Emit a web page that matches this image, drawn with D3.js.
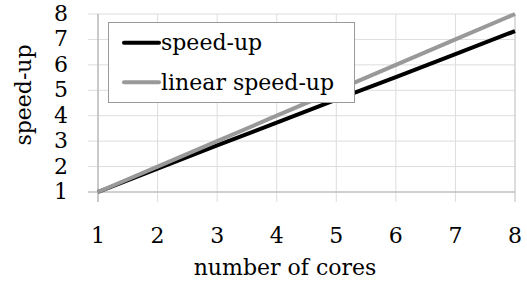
<!DOCTYPE html>
<html>
<head>
<meta charset="utf-8">
<script src="https://cdn.jsdelivr.net/npm/d3@7"></script>
<style>
body { margin: 0; background: #fff; }
svg text { font-family: "DejaVu Serif", serif; fill: #000; }
</style>
</head>
<body>
<script>
var cores = [1, 2, 3, 4, 5, 6, 7, 8];
var speedUp = [1, 1.92, 2.83, 3.73, 4.63, 5.52, 6.42, 7.33];
var linearSpeedUp = [1, 2, 3, 4, 5, 6, 7, 8];
var yTicks = [1, 2, 3, 4, 5, 6, 7, 8];
var seriesNames = ["speed-up", "linear speed-up"];
var seriesColors = ["#000000", "#999999"];

var width = 527, height = 286;
var svg = d3.select("body").append("svg").attr("width", width).attr("height", height);

var x = d3.scaleLinear().domain([1, 8]).range([98, 515]);
var y = d3.scaleLinear().domain([1, 8]).range([192, 14]);

// grid
svg.selectAll(".hgrid").data(yTicks).enter().append("line")
	.attr("x1", 88).attr("x2", 515)
	.attr("y1", function(d){ return y(d); }).attr("y2", function(d){ return y(d); })
	.style("stroke", "#dddddd").style("stroke-width", 1);
svg.selectAll(".vgrid").data(cores).enter().append("line")
	.attr("x1", function(d){ return x(d); }).attr("x2", function(d){ return x(d); })
	.attr("y1", 14).attr("y2", 202)
	.style("stroke", "#dddddd").style("stroke-width", 1);

// axes lines
svg.append("line").attr("x1", x(1)).attr("x2", x(1)).attr("y1", 14).attr("y2", 202)
	.style("stroke", "#b0b0b0").style("stroke-width", 1.2);
svg.append("line").attr("x1", 88).attr("x2", 515).attr("y1", y(1)).attr("y2", y(1))
	.style("stroke", "#b0b0b0").style("stroke-width", 1.2);
svg.append("line").attr("x1", x(8)).attr("x2", x(8)).attr("y1", 14).attr("y2", 202)
	.style("stroke", "#cccccc").style("stroke-width", 1);

// tick labels
svg.selectAll(".ylab").data(yTicks).enter().append("text")
	.attr("x", 68).attr("y", function(d){ return y(d) + 7; })
	.attr("text-anchor", "end").attr("font-size", 22)
	.text(function(d){ return d; });
svg.selectAll(".xlab").data(cores).enter().append("text")
	.attr("x", function(d){ return x(d); }).attr("y", 243)
	.attr("text-anchor", "middle").attr("font-size", 22)
	.text(function(d){ return d; });

svg.append("text").attr("x", 285).attr("y", 275).attr("text-anchor", "middle")
	.attr("font-size", 22).text("number of cores");
svg.append("text").attr("transform", "translate(31,95) rotate(-90)").attr("text-anchor", "middle")
	.attr("font-size", 22).text("speed-up");

// lines
var line = d3.line().x(function(d){ return x(d[0]); }).y(function(d){ return y(d[1]); });
var series = [speedUp, linearSpeedUp];
series.forEach(function(s, i){
	svg.append("path").datum(cores.map(function(c, j){ return [c, s[j]]; }))
		.attr("d", line).style("fill", "none")
		.style("stroke", seriesColors[i]).style("stroke-width", 4);
});

// legend
svg.append("rect").attr("x", 108.5).attr("y", 22.5).attr("width", 246).attr("height", 80)
	.style("fill", "#fff").style("stroke", "#999").style("stroke-width", 1);
seriesNames.forEach(function(n, i){
	var ly = 42.7 + i * 39.6;
	svg.append("line").attr("x1", 124).attr("x2", 159).attr("y1", ly).attr("y2", ly)
		.style("stroke", seriesColors[i]).style("stroke-width", 4).style("stroke-linecap", "round");
	svg.append("text").attr("x", 161).attr("y", ly + 7.5).attr("font-size", 22).text(n);
});
</script>
</body>
</html>
